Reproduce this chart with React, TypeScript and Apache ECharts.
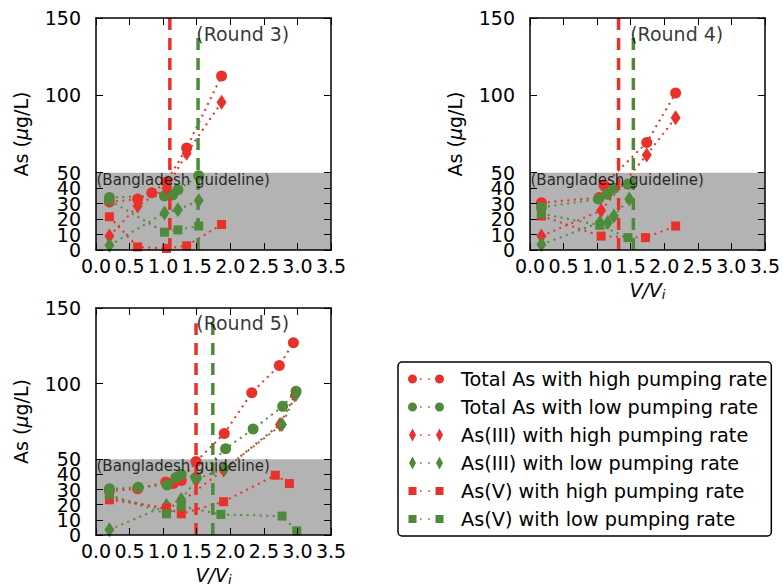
import React, { useEffect, useRef } from "react";
import * as echarts from "echarts";

const RED = "#e8312b";
const GREEN = "#4f8a3b";
const FONT = "DejaVu Sans";

const seriesNames = [
  "Total As with high pumping rate",
  "Total As with low pumping rate",
  "As(III) with high pumping rate",
  "As(III) with low pumping rate",
  "As(V) with high pumping rate",
  "As(V) with low pumping rate",
];
const seriesColors = [RED, GREEN, RED, GREEN, RED, GREEN];
const seriesSymbols = ["circle", "circle", "diamond", "diamond", "rect", "rect"];

// y tick values (listed so that the first/last label pairs do not collide)
const yTickValues = [0, 150, 10, 20, 30, 40, 50, 100];
const xMin = 0;
const xMax = 3.5;
const xStep = 0.5;
const guidelineLimit = 50;
const guidelineText = "(Bangladesh guideline)";

// Round 3 — [V/Vi, As µg/L]
const r3TotalHigh = [[0.2, 31], [0.62, 33], [0.83, 37], [1.05, 44], [1.35, 66], [1.87, 112.5]];
const r3TotalLow = [[0.2, 34], [1.02, 35], [1.14, 35.5], [1.22, 39], [1.53, 48]];
const r3IIIHigh = [[0.2, 9], [0.62, 28.5], [1.05, 40], [1.35, 62.5], [1.87, 95.5]];
const r3IIILow = [[0.2, 3], [1.02, 24], [1.22, 26], [1.53, 32]];
const r3VHigh = [[0.2, 21.5], [0.62, 2], [1.05, 1], [1.35, 2.7], [1.87, 16.5]];
const r3VLow = [[0.2, 32], [1.02, 11.5], [1.22, 13], [1.53, 15.5]];
const r3Cuts = { red: 1.1, green: 1.52, redTop: 150, greenTop: 140 };

// Round 4
const r4TotalHigh = [[0.17, 30.5], [1.03, 34], [1.1, 42], [1.74, 69.5], [2.17, 101.5]];
const r4TotalLow = [[0.17, 27.5], [1.02, 33], [1.15, 36], [1.25, 40], [1.46, 42.5]];
const r4IIIHigh = [[0.17, 9], [1.06, 25.5], [1.74, 61.5], [2.17, 85.5]];
const r4IIILow = [[0.17, 3.5], [1.04, 17.8], [1.16, 17.8], [1.25, 22], [1.48, 33]];
const r4VHigh = [[0.17, 22], [1.06, 9], [1.72, 8], [2.17, 15.5]];
const r4VLow = [[0.17, 23.5], [1.04, 16], [1.46, 8]];
const r4Cuts = { red: 1.32, green: 1.54, redTop: 150, greenTop: 140 };

// Round 5
const r5TotalHigh = [[0.2, 29], [0.62, 30.5], [1.04, 35], [1.15, 34], [1.27, 36], [1.49, 48.5], [1.91, 67], [2.32, 94], [2.73, 112], [2.94, 127]];
const r5TotalLow = [[0.2, 30.5], [0.63, 31.5], [1.06, 33], [1.19, 38], [1.27, 40], [1.49, 38], [1.93, 57], [2.34, 70], [2.78, 85], [2.98, 95]];
const r5IIIHigh = [[0.2, 25], [1.05, 17], [1.27, 22], [1.9, 43], [2.74, 73], [2.96, 92.5]];
const r5IIILow = [[0.2, 3.5], [1.05, 19.5], [1.27, 23.5], [1.5, 37], [1.92, 44], [2.77, 73], [2.98, 93]];
const r5VHigh = [[0.2, 23.3], [1.05, 17.8], [1.27, 14], [1.9, 22], [2.67, 39.5], [2.88, 34]];
const r5VLow = [[0.2, 26.5], [1.05, 14], [1.27, 19], [1.86, 13.6], [2.77, 12.5], [2.99, 2.8]];
const r5Cuts = { red: 1.49, green: 1.74, redTop: 140, greenTop: 140 };

const rounds = [
  { title: "(Round 3)", data: [r3TotalHigh, r3TotalLow, r3IIIHigh, r3IIILow, r3VHigh, r3VLow], cuts: r3Cuts, xName: false },
  { title: "(Round 4)", data: [r4TotalHigh, r4TotalLow, r4IIIHigh, r4IIILow, r4VHigh, r4VLow], cuts: r4Cuts, xName: true },
  { title: "(Round 5)", data: [r5TotalHigh, r5TotalLow, r5IIIHigh, r5IIILow, r5VHigh, r5VLow], cuts: r5Cuts, xName: true },
];
const titlePos = [1.5, 139.5];
const guidelinePos = [0, 45];

// layout (pixels)
const grids = [
  { left: 96, top: 18, width: 235, height: 232 },
  { left: 530, top: 18, width: 235, height: 232 },
  { left: 96, top: 308, width: 235, height: 232 },
];

const dots = "M12,6.2h1.6v1.6h-1.6Z M20.3,6.2h1.6v1.6h-1.6Z";
const bounds = "M0,0 M48,14 ";
const iconCircle =
  "path://" + bounds + "M0,7a4.5,4.5 0 1,0 9,0a4.5,4.5 0 1,0 -9,0Z M27,7a4.5,4.5 0 1,0 9,0a4.5,4.5 0 1,0 -9,0Z " + dots;
const iconDiamond =
  "path://" + bounds + "M1,7L4.5,0.5L8,7L4.5,13.5Z M28,7L31.5,0.5L35,7L31.5,13.5Z " + dots;
const iconSquare =
  "path://" + bounds + "M0.5,3h8v8h-8Z M27.5,3h8v8h-8Z " + dots;
const legendIcons = [iconCircle, iconCircle, iconDiamond, iconDiamond, iconSquare, iconSquare];

function buildOption() {
  const xAxis: any[] = [];
  const yAxis: any[] = [];
  const series: any[] = [];
  const labelStyle = { fontSize: 19, fontFamily: FONT, color: "#000" };
  const lineStyleAxis = { color: "#000", width: 1.5 };

  rounds.forEach((r, i) => {
    xAxis.push({
      type: "value",
      gridIndex: i,
      min: xMin,
      max: xMax,
      interval: xStep,
      position: "bottom",
      z: 10,
      axisLine: { show: true, onZero: false, lineStyle: lineStyleAxis },
      axisTick: { show: true, inside: true, length: 7, lineStyle: { color: "#000", width: 1 } },
      axisLabel: { ...labelStyle, margin: 6, showMinLabel: true, showMaxLabel: true, formatter: (v: number) => v.toFixed(1) },
      splitLine: { show: false },
      name: r.xName ? "{v|V/V}{s|i}" : "",
      nameLocation: "middle",
      nameGap: 29,
      nameTextStyle: {
        ...labelStyle,
        rich: {
          v: { fontSize: 19, fontStyle: "italic", fontFamily: FONT, color: "#000" },
          s: { fontSize: 13, fontStyle: "italic", fontFamily: FONT, color: "#000", padding: [9, 0, 0, 0] },
        },
      },
    });
    xAxis.push({
      type: "value",
      gridIndex: i,
      min: xMin,
      max: xMax,
      interval: xStep,
      position: "top",
      z: 10,
      axisLine: { show: true, onZero: false, lineStyle: lineStyleAxis },
      axisTick: { show: true, inside: true, length: 7, lineStyle: { color: "#000", width: 1 } },
      axisLabel: { show: false },
      splitLine: { show: false },
    });
    yAxis.push({
      type: "value",
      gridIndex: i,
      min: 0,
      max: 150,
      position: "left",
      z: 10,
      axisLine: { show: true, onZero: false, lineStyle: lineStyleAxis },
      axisTick: { show: true, inside: true, length: 7, customValues: yTickValues, lineStyle: { color: "#000", width: 1 } },
      axisLabel: { ...labelStyle, lineHeight: 14, margin: 15, customValues: yTickValues, hideOverlap: false },
      splitLine: { show: false },
      name: "As ({m|μ}g/L)",
      nameLocation: "middle",
      nameGap: 66,
      nameTextStyle: {
        ...labelStyle,
        rich: { m: { fontSize: 19, fontStyle: "italic", fontFamily: FONT, color: "#000" } },
      },
    });
    yAxis.push({
      type: "value",
      gridIndex: i,
      min: 0,
      max: 150,
      position: "right",
      z: 10,
      axisLine: { show: true, onZero: false, lineStyle: lineStyleAxis },
      axisTick: { show: true, inside: true, length: 7, customValues: yTickValues, lineStyle: { color: "#000", width: 1 } },
      axisLabel: { show: false },
      splitLine: { show: false },
    });

    const xi = 2 * i;
    // guideline band
    series.push({
      type: "scatter",
      name: "band" + i,
      xAxisIndex: xi,
      yAxisIndex: xi,
      data: [],
      silent: true,
      z: 1,
      markArea: {
        silent: true,
        itemStyle: { color: "#b3b3b3", opacity: 1 },
        data: [[{ yAxis: 0 }, { yAxis: guidelineLimit }]],
      },
    });

    r.data.forEach((d, j) => {
      series.push({
        type: "line",
        name: seriesNames[j],
        xAxisIndex: xi,
        yAxisIndex: xi,
        data: d,
        symbol: seriesSymbols[j],
        symbolSize: j < 2 ? 11 : j < 4 ? [10, 15] : 9,
        showAllSymbol: true,
        z: 2,
        itemStyle: { color: seriesColors[j], borderWidth: 0 },
        lineStyle: { color: seriesColors[j], width: 2, type: [2, 4.5] },
        emphasis: { disabled: true },
      });
    });

    // critical V/Vi dashed lines
    series.push({
      type: "line",
      name: "redcut" + i,
      xAxisIndex: xi,
      yAxisIndex: xi,
      data: [[r.cuts.red, 0], [r.cuts.red, r.cuts.redTop]],
      symbol: "none",
      z: 4,
      lineStyle: { color: RED, width: 3.5, type: [12, 8] },
      emphasis: { disabled: true },
    });
    series.push({
      type: "line",
      name: "greencut" + i,
      xAxisIndex: xi,
      yAxisIndex: xi,
      data: [[r.cuts.green, 0], [r.cuts.green, r.cuts.greenTop]],
      symbol: "none",
      z: 4,
      lineStyle: { color: GREEN, width: 3.5, type: [12, 8] },
      emphasis: { disabled: true },
    });

    // texts
    series.push({
      type: "scatter",
      name: "text" + i,
      xAxisIndex: xi,
      yAxisIndex: xi,
      silent: true,
      z: 6,
      symbolSize: 1,
      itemStyle: { color: "rgba(0,0,0,0)" },
      data: [
        {
          value: titlePos,
          label: { show: true, formatter: r.title, position: [0, 0], align: "left", verticalAlign: "middle", fontSize: 19, fontFamily: FONT, color: "#000" },
        },
        {
          value: guidelinePos,
          label: { show: true, formatter: guidelineText, position: [1, 0], align: "left", verticalAlign: "middle", fontSize: 15, fontFamily: FONT, color: "#000" },
        },
      ],
    });
  });

  return {
    animation: false,
    grid: grids.map((g) => ({ ...g, containLabel: false })),
    xAxis,
    yAxis,
    legend: {
      orient: "vertical",
      left: 398,
      top: 362,
      padding: [7, 4, 7, 10],
      itemGap: 8,
      itemWidth: 48,
      itemHeight: 14,
      borderColor: "#000",
      borderWidth: 1.5,
      borderRadius: 4,
      backgroundColor: "#fff",
      selectedMode: false,
      itemStyle: { borderWidth: 0 },
      textStyle: { fontSize: 19.3, fontFamily: FONT, color: "#000", lineHeight: 20 },
      data: seriesNames.map((n, j) => ({ name: n, icon: legendIcons[j] })),
    },
    series,
  };
}

export default function App() {
  const ref = useRef<HTMLDivElement>(null);
  useEffect(() => {
    if (!ref.current) return;
    const chart = echarts.init(ref.current, undefined, { renderer: "svg" });
    chart.setOption(buildOption() as any);
    return () => chart.dispose();
  }, []);
  return (
    <div
      ref={ref}
      style={{ position: "absolute", left: 0, top: 0, width: 783, height: 587, background: "#fff" }}
    />
  );
}
